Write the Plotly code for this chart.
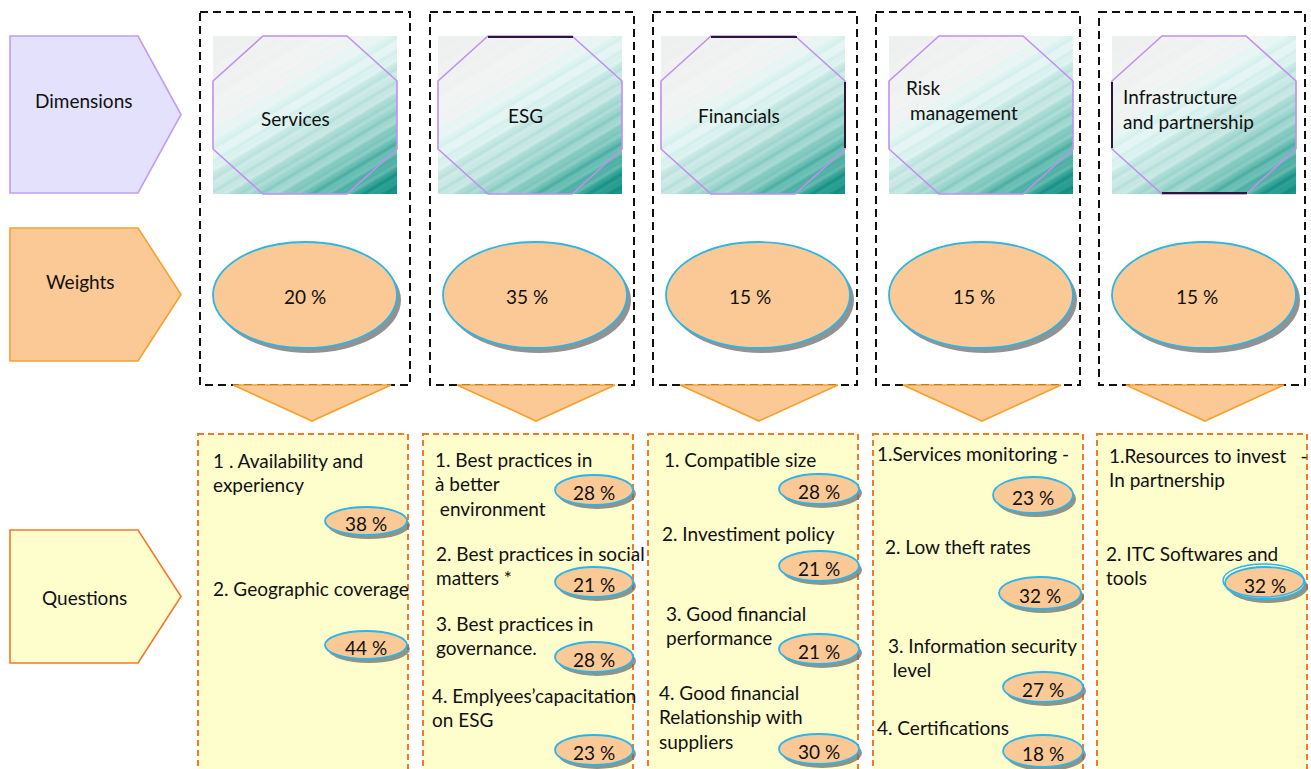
import numpy as np
import plotly.graph_objects as go

# ---------------- data ----------------
row_labels = ["Dimensions", "Weights", "Questions"]
dimensions = ["Services", "ESG", "Financials", "Risk<br>management", "Infrastructure<br>and partnership"]
weights = [20, 35, 15, 15, 15]
questions = [
    ["1 . Availability and<br>experiency", "2. Geographic coverage"],
    ["1. Best practices in<br>à better<br>\u00a0environment", "2. Best practices in social<br>matters *",
     "3. Best practices in<br>governance.", "4. Emplyees\u2019capacitation<br>on ESG"],
    ["1. Compatible size", "2. Investiment policy", "3. Good financial<br>performance",
     "4. Good financial<br>Relationship with<br>suppliers"],
    ["1.Services monitoring -", "2. Low theft rates", "3. Information security<br>\u00a0level", "4. Certifications"],
    ["1.Resources to invest\u00a0\u00a0\u00a0-<br>In partnership", "2. ITC Softwares and<br>tools"],
]
question_weights = [[38, 44], [28, 21, 28, 23], [28, 21, 21, 30], [23, 32, 27, 18], [None, 32]]

# ---------------- layout (pixel positions) ----------------
W, H = 1311, 769
FONT = "Lato"
FS = 19
TXT = "#111111"

row_shapes = [  # (y0, y1, fill, line)
    (36, 193, "#E3E1FC", "#C49CF2"),
    (228, 361, "#FBC995", "#F7A12C"),
    (530, 663, "#FEFDCC", "#F5782A"),
]
row_label_pos = [(83, 100), (80, 281), (84, 597)]

box_x0 = [200, 430, 653, 876, 1099]
box_x1 = [410, 634, 857, 1080, 1305]
img_x0 = [213, 438, 661, 889, 1112]
IMG_W, IMG_Y0, IMG_Y1 = 184, 36, 194
dim_label_pos = [(295, 118, "center"), (525, 115, "center"), (739, 115, "center"),
                 (904, 100, "left"), (1121, 109, "left")]
weight_cx = [305, 535, 758, 981, 1204]
weight_txt_dx = [0, -8, -8, -7, -7]
tri_cx = [312, 536, 759, 982, 1205]
qbox_x0 = [198, 423, 648, 873, 1097]

q_text_pos = [
    [(211, 460), (211, 588)],
    [(433, 459), (434, 553), (434, 623), (430, 695)],
    [(662, 459), (660, 533), (664, 613), (657, 692)],
    [(875, 453), (883, 546), (886, 645), (875, 727)],
    [(1107, 455), (1104, 553)],
]
q_oval_pos = [
    [(366, 521, 41, 14), (366, 645, 41, 14)],
    [(594, 490, 39, 15), (594, 582, 39, 15), (594, 657, 39, 15), (594, 750, 39, 15)],
    [(819, 489, 40, 15), (819, 566, 40, 15), (819, 649, 40, 15), (819, 749, 40, 15)],
    [(1033, 495, 40, 18), (1040, 593, 41, 16), (1043, 687, 40, 15), (1043, 751, 40, 16)],
    [None, (1265, 583, 40, 16)],
]
LINE_H = 24.5

fig = go.Figure()
shapes = []
annotations = []


def ann(x, y, text, size=FS, xanchor="left", color=TXT):
    annotations.append(dict(x=x, y=y, xref="x", yref="y", text=text, showarrow=False,
                            xanchor=xanchor, yanchor="middle", align=xanchor,
                            font=dict(family=FONT, size=size, color=color)))


# left pentagons
for (y0, y1, fill, line), lab, (lx, ly) in zip(row_shapes, row_labels, row_label_pos):
    ym = (y0 + y1) / 2
    shapes.append(dict(type="path", path=f"M 10,{y0} L 138,{y0} L 181,{ym} L 138,{y1} L 10,{y1} Z",
                       fillcolor=fill, line=dict(color=line, width=1.6), layer="above"))
    ann(lx, ly, lab, xanchor="center")

# gradient images (decorative heatmaps)
colorscale = [[0, "#EEF0EF"], [0.2, "#F2F4F3"], [0.32, "#E0F5F3"], [0.45, "#C9E8E4"],
              [0.58, "#A7DAD3"], [0.72, "#7AC6BC"], [0.86, "#45AB9F"], [1, "#118F84"]]
for i, x0 in enumerate(img_x0):
    xs = np.arange(x0 + 1, x0 + IMG_W, 2.0)
    ys = np.arange(IMG_Y0 + 1, IMG_Y1, 2.0)
    X, Y = np.meshgrid(xs - x0, ys - IMG_Y0)
    v = (0.6 * X + Y) / 1.166
    u = v / v.max()
    z = u ** 1.35 + 0.045 * np.sin(2 * np.pi * v / 13.0) + 0.025 * np.sin(2 * np.pi * v / 5.3 + 1.0) \
        + 0.03 * np.sin(2 * np.pi * v / 31.0 + 2.0)
    z = np.clip(z, 0, 1)
    fig.add_trace(go.Heatmap(x=xs, y=ys, z=z, colorscale=colorscale, zmin=0, zmax=1,
                             showscale=False, hoverinfo="skip", zsmooth="best"))

for i in range(5):
    # dashed black box
    shapes.append(dict(type="rect", x0=box_x0[i], x1=box_x1[i], y0=12, y1=385,
                       line=dict(color="#111111", width=2, dash="8px,5px"), layer="above"))
    # octagon outline
    x0, x1, y0, y1 = img_x0[i], img_x0[i] + IMG_W, IMG_Y0, IMG_Y1
    cx, cy = 50, 45
    pts = [(x0 + cx, y0), (x1 - cx, y0), (x1, y0 + cy), (x1, y1 - cy), (x1 - cx, y1),
           (x0 + cx, y1), (x0, y1 - cy), (x0, y0 + cy)]
    path = "M " + " L ".join(f"{a},{b}" for a, b in pts) + " Z"
    shapes.append(dict(type="path", path=path, line=dict(color="#C28EF2", width=1.6), layer="above"))
    # dimension label
    lx, ly, al = dim_label_pos[i]
    lines = dimensions[i].split("<br>")
    for k, t in enumerate(lines):
        dx = 4 if (i == 3 and k == 1) else 0
        ann(lx + dx, ly + (k - (len(lines) - 1) / 2) * LINE_H, t, xanchor=al)
    # weight ellipse + shadow
    wx = weight_cx[i]
    shapes.append(dict(type="circle", x0=wx - 92 + 4, x1=wx + 92 + 4, y0=295 - 53 + 5, y1=295 + 53 + 5,
                       fillcolor="rgba(110,110,110,0.75)", line=dict(width=0), layer="above"))
    shapes.append(dict(type="circle", x0=wx - 92, x1=wx + 92, y0=295 - 53, y1=295 + 53,
                       fillcolor="#FBC995", line=dict(color="#2BB5E8", width=1.8), layer="above"))
    ann(wx + weight_txt_dx[i], 296, f"{weights[i]} %", xanchor="center")
    # triangle
    tx = tri_cx[i]
    shapes.append(dict(type="path", path=f"M {tx-79},385 L {tx+79},385 L {tx},421 Z",
                       fillcolor="#FBC995", line=dict(color="#F7A12C", width=1.6), layer="above"))
    # question box
    qx = qbox_x0[i]
    shapes.append(dict(type="rect", x0=qx, x1=qx + 210, y0=434, y1=780,
                       fillcolor="#FEFDCC", line=dict(color="#F5782A", width=2, dash="6px,4px"),
                       layer="above"))

# dark edge artifacts on some octagons
for (xa, ya, xb, yb) in [(488, 37, 573, 37), (711, 37, 797, 37), (845, 82, 845, 148),
                         (1112, 82, 1112, 148), (1162, 193, 1247, 193)]:
    shapes.append(dict(type="line", x0=xa, y0=ya, x1=xb, y1=yb,
                       line=dict(color="#2A1838", width=2), layer="above"))

# questions and their weights
for i in range(5):
    for j, q in enumerate(questions[i]):
        tx, ty = q_text_pos[i][j]
        for k, t in enumerate(q.split("<br>")):
            ann(tx, ty + k * LINE_H, t)
        pw = question_weights[i][j]
        pos = q_oval_pos[i][j]
        if pw is None or pos is None:
            continue
        cx, cy, rx, ry = pos
        shapes.append(dict(type="circle", x0=cx - rx + 3, x1=cx + rx + 3, y0=cy - ry + 4, y1=cy + ry + 4,
                           fillcolor="rgba(110,110,110,0.75)", line=dict(width=0), layer="above"))
        shapes.append(dict(type="circle", x0=cx - rx, x1=cx + rx, y0=cy - ry, y1=cy + ry,
                           fillcolor="#FBC995", line=dict(color="#2BB5E8", width=1.8), layer="above"))
        if i == 4:
            shapes.append(dict(type="circle", x0=cx - rx - 2, x1=cx + rx - 1, y0=cy - ry - 3, y1=cy + ry - 2,
                               line=dict(color="#2BB5E8", width=1.5), layer="above"))
        ann(cx, cy + 2, f"{pw} %", xanchor="center")

fig.update_layout(
    width=W, height=H, margin=dict(l=0, r=0, t=0, b=0),
    paper_bgcolor="white", plot_bgcolor="white",
    xaxis=dict(range=[0, W], visible=False, fixedrange=True),
    yaxis=dict(range=[H, 0], visible=False, fixedrange=True),
    shapes=shapes, annotations=annotations, showlegend=False,
)
fig.write_html("out.html", config={"displayModeBar": False})
